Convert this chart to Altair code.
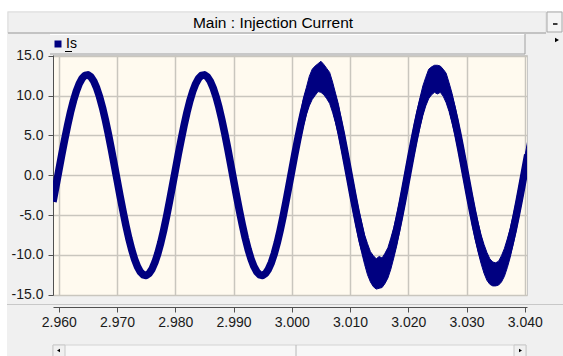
import altair as alt
import pandas as pd

# Injection current Is (A), one sample every 0.5 ms starting at t = 2.9590 s
t_start = 2.9590
t_step = 0.0005

is_center = [
    -3.33, -1.38, 0.59, 2.56, 4.45, 6.24, 7.88, 9.32, 10.53, 11.48,
    12.15, 12.52, 12.60, 12.34, 11.79, 10.94, 9.83, 8.48, 6.92, 5.19,
    3.33, 1.38, -0.59, -2.56, -4.45, -6.24, -7.88, -9.32, -10.53, -11.48,
    -12.15, -12.52, -12.60, -12.34, -11.79, -10.94, -9.83, -8.48, -6.92, -5.19,
    -3.30, -1.36, 0.61, 2.58, 4.46, 6.25, 7.89, 9.33, 10.54, 11.49,
    12.16, 12.53, 12.60, 12.35, 11.80, 10.95, 9.84, 8.49, 6.93, 5.20,
    3.34, 1.39, -0.58, -2.55, -4.44, -6.23, -7.87, -9.31, -10.52, -11.47,
    -12.14, -12.52, -12.59, -12.34, -11.79, -10.95, -9.84, -8.49, -6.93, -5.20,
    -3.32, -1.37, 0.59, 2.56, 4.45, 6.24, 7.88, 9.32, 10.53, 11.48,
    12.15, 12.52, 12.59, 12.34, 11.79, 10.94, 9.83, 8.48, 6.92, 5.19,
    3.33, 1.38, -0.59, -2.56, -4.45, -6.24, -7.88, -9.32, -10.53, -11.48,
    -12.15, -12.52, -12.59, -12.34, -11.79, -10.94, -9.83, -8.48, -6.92, -5.19,
    -3.33, -1.38, 0.59, 2.56, 4.45, 6.24, 7.88, 9.32, 10.53, 11.48,
    12.15, 12.52, 12.59, 12.34, 11.79, 10.94, 9.83, 8.48, 6.92, 5.19,
    3.33, 1.38, -0.59, -2.56, -4.45, -6.24, -7.88, -9.32, -10.53, -11.48,
    -12.15, -12.52, -12.59, -12.34, -11.79, -10.94, -9.83, -8.48, -6.92, -5.19,
    -3.33, -1.38, 0.59, 2.56,
]

# Switching-ripple band that appears from t = 3.000 s (sample 82 onward)
band_first_sample = 82
is_band_upper = [
    1.0, 3.8, 6.1, 7.8, 9.7, 11.0, 12.4, 13.3, 13.7, 14.0,
    14.3, 13.9, 13.4, 12.9, 11.7, 10.3, 8.9, 7.0, 5.2, 3.1,
    1.2, -0.7, -2.6, -4.4, -5.9, -7.5, -8.6, -9.6, -10.1, -10.5,
    -10.2, -10.4, -9.8, -9.1, -7.9, -6.6, -5.0, -3.3, -1.5, 0.5,
    2.4, 4.3, 6.3, 8.1, 9.7, 11.2, 12.3, 13.3, 13.6, 13.8,
    13.8, 13.7, 13.3, 12.8, 11.6, 10.3, 8.7, 7.0, 5.1, 3.2,
    1.2, -0.8, -2.6, -4.4, -6.0, -7.5, -8.7, -9.7, -10.5, -10.9,
    -11.0, -10.8, -10.1, -9.2, -8.0, -6.7, -5.1, -3.4, -1.5, 0.4,
    2.3, 4.3,
]
is_band_lower = [
    0.2, 1.4, 2.9, 4.6, 6.2, 7.6, 8.7, 9.5, 10.0, 10.5,
    10.4, 10.1, 9.6, 9.0, 7.9, 6.6, 5.1, 3.3, 1.5, -0.4,
    -2.4, -4.4, -6.3, -8.2, -9.7, -11.2, -12.5, -13.4, -14.0, -14.3,
    -14.2, -14.1, -13.6, -12.9, -11.8, -10.4, -8.9, -7.1, -5.2, -3.2,
    -1.2, 0.8, 2.6, 4.4, 6.0, 7.5, 8.7, 9.6, 10.1, 10.4,
    10.2, 10.4, 9.9, 9.1, 8.0, 6.6, 5.1, 3.4, 1.5, -0.5,
    -2.4, -4.3, -6.3, -8.1, -9.7, -11.1, -12.3, -13.2, -13.7, -13.9,
    -13.9, -13.8, -13.4, -12.7, -11.6, -10.3, -8.7, -7.0, -5.1, -3.2,
    -1.2, 0.8,
]

x_ticks = [2.960, 2.970, 2.980, 2.990, 3.000, 3.010, 3.020, 3.030, 3.040]
y_ticks = [-15.0, -10.0, -5.0, 0.0, 5.0, 10.0, 15.0]
series_name = "Is"
panel_title = "Main : Injection Current"

time = [round(t_start + t_step * i, 4) for i in range(len(is_center))]
wave = pd.DataFrame({"time": time, "current": is_center})
band = pd.DataFrame({
    "time": time[band_first_sample:band_first_sample + len(is_band_upper)],
    "upper": is_band_upper,
    "lower": is_band_lower,
    "series": series_name,
})

NAVY = "#000080"
FONT = "Liberation Sans Narrow, Arial Narrow, Liberation Sans, Arial, sans-serif"
LEFT, TOP = 53, 55          # page position of the plot origin
W, H = 474, 240

x_scale = alt.Scale(domain=[2.9590, 3.04038], nice=False, zero=False)
y_scale = alt.Scale(domain=[-15.04, 15.09], nice=False, zero=False)

x_axis = alt.Axis(
    values=x_ticks, format=".3f", title=None, offset=12, tickSize=5,
    labelPadding=3, grid=True,
)
y_axis = alt.Axis(
    values=y_ticks, title=None, tickSize=5, labelPadding=5, grid=True,
    labelExpr="replace(format(datum.value, '.1f'), '\u2212', '-')",
)

one = pd.DataFrame({"k": [0]})


def box(x0, y0, x1, y1, fill, stroke=None, width=1.0):
    style = {"fill": fill}
    if stroke:
        style.update(stroke=stroke, strokeWidth=width)
    else:
        style.update(strokeWidth=0)
    return alt.Chart(one).mark_rect(**style).encode(
        x=alt.value(x0 - LEFT), x2=alt.value(x1 - LEFT),
        y=alt.value(y0 - TOP), y2=alt.value(y1 - TOP),
    )


def hline(x0, x1, y, color, width=1.0):
    return alt.Chart(one).mark_rule(color=color, strokeWidth=width).encode(
        x=alt.value(x0 - LEFT), x2=alt.value(x1 - LEFT),
        y=alt.value(y - TOP), y2=alt.value(y - TOP),
    )


def vline(x, y0, y1, color, width=1.0):
    return alt.Chart(one).mark_rule(color=color, strokeWidth=width).encode(
        x=alt.value(x - LEFT), x2=alt.value(x - LEFT),
        y=alt.value(y0 - TOP), y2=alt.value(y1 - TOP),
    )


def arrow(x, y, shape, size):
    return alt.Chart(one).mark_point(
        shape=shape, filled=True, color="#000000", size=size, opacity=1
    ).encode(x=alt.value(x - LEFT), y=alt.value(y - TOP))


# window frame around the plot
frame = [
    box(0, 0, 563, 11, "#FFFFFF"),
    box(0, 0, 7, 356, "#FFFFFF"),
    # title bar
    box(8, 12, 546, 33, "#F0F0F0", "#DCDCDC"),
    hline(8, 546, 33, "#A0A0A0"),
    alt.Chart(one).mark_text(
        font=FONT, fontSize=15.5, color="#000000", align="center", baseline="middle"
    ).encode(x=alt.value(273 - LEFT), y=alt.value(22.5 - TOP),
             text=alt.value(panel_title)),
    # minimise button
    box(547, 12, 562, 32, "#F4F4F4", "#A8A8A8"),
    hline(553, 557.5, 24, "#000000", 1.5),
    # legend bar
    box(50, 34, 525, 54, "#F0F0F0"),
    hline(50, 525, 34.5, "#FFFFFF"),
    hline(50, 525, 54, "#A0A0A0"),
    vline(525, 34, 54, "#A0A0A0"),
    arrow(557, 40, "triangle-right", 22),
    # separator above the time axis
    hline(7, 563, 304.5, "#C8C8C8"),
    # horizontal scroll bar
    box(53, 345, 526, 357, "#F7F7F7", "#D4D4D4"),
    box(53, 345, 65, 357, "#F0F0F0", "#C8C8C8"),
    box(514, 345, 526, 357, "#F0F0F0", "#C8C8C8"),
    vline(296, 345, 357, "#B8B8B8"),
    arrow(58.5, 350.5, "triangle-left", 12),
    arrow(520.5, 350.5, "triangle-right", 12),
]

ripple = alt.Chart(band).mark_area(
    clip=True, stroke=NAVY, strokeWidth=1, interpolate="linear"
).encode(
    x=alt.X("time:Q", scale=x_scale, axis=x_axis),
    y=alt.Y("upper:Q", scale=y_scale, axis=y_axis),
    y2="lower:Q",
    color=alt.Color(
        "series:N",
        scale=alt.Scale(domain=[series_name], range=[NAVY]),
        legend=alt.Legend(
            orient="none", legendX=-2, legendY=-18, title=None,
            symbolType="square", symbolSize=49, symbolStrokeWidth=0,
            labelFont=FONT, labelFontSize=14, labelColor="#000000",
            labelOffset=1, padding=0,
        ),
    ),
)

trace = alt.Chart(wave).mark_line(
    color=NAVY, strokeWidth=7.5, clip=True, strokeJoin="round", strokeCap="butt"
).encode(
    x=alt.X("time:Q", scale=x_scale, axis=x_axis),
    y=alt.Y("current:Q", scale=y_scale, axis=y_axis),
)

# underline under the legend label
underline = hline(65, 72, 51.5, "#000000", 1)

chart = alt.layer(*frame, ripple, trace, underline).properties(
    width=W, height=H,
    autosize=alt.AutoSizeParams(type="none"),
    padding={"left": LEFT, "top": TOP, "right": 563 - LEFT - W, "bottom": 356 - TOP - H},
    background="#F0F0F0",
).configure_view(
    fill="#FFFAEF", stroke="#C8C8C8", strokeWidth=1
).configure_axis(
    labelFont=FONT, labelFontSize=14, labelColor="#1A1A1A",
    domainColor="#505050", tickColor="#505050", domainWidth=1, tickWidth=1,
    gridColor="#C9C6BE", gridWidth=1.5,
)

chart.save("out.html", embed_options={"renderer": "svg", "actions": False})
